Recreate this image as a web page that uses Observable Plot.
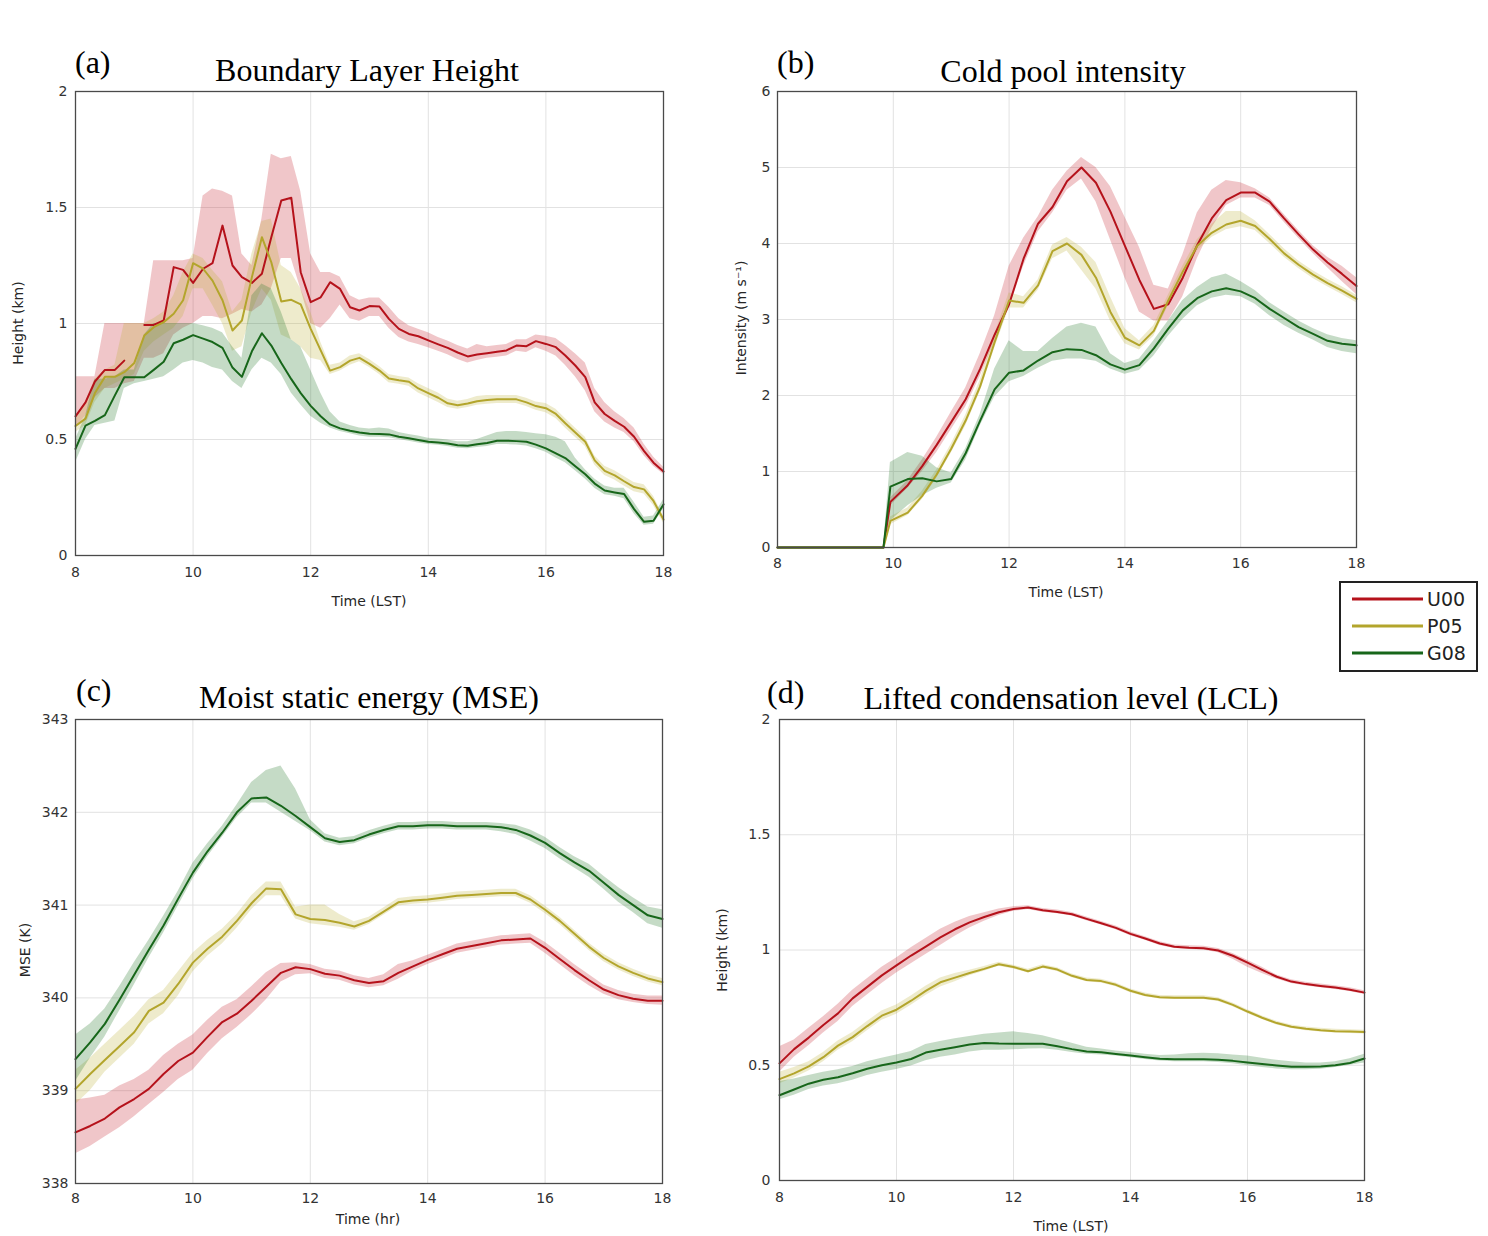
<!DOCTYPE html>
<html><head><meta charset="utf-8">
<script src="https://cdn.jsdelivr.net/npm/d3@7"></script>
<script src="https://cdn.jsdelivr.net/npm/@observablehq/plot@0.6"></script>
<style>
body{margin:0;background:#fff;}
#fig{position:relative;width:1488px;height:1236px;overflow:hidden;background:#fff;}
</style></head>
<body><div id="fig"></div>
<script>
// ---------- shared ----------
const seriesNames = ["U00", "P05", "G08"];
const lineColors = ["#b5121b", "#b3a52c", "#17661a"];
const bandColors = ["#c8323c", "#bcae34", "#2e7d32"];
const bandOpacity = [0.28, 0.25, 0.28];
const xTicks = [8, 10, 12, 14, 16, 18];

// ---------- panel (a) Boundary Layer Height ----------
const ta = [8,8.17,8.33,8.5,8.67,8.83,9,9.17,9.33,9.5,9.67,9.83,10,10.17,10.33,10.5,10.67,10.83,11,11.17,11.33,11.5,11.67,11.83,12,12.17,12.33,12.5,12.67,12.83,13,13.17,13.33,13.5,13.67,13.83,14,14.17,14.33,14.5,14.67,14.83,15,15.17,15.33,15.5,15.67,15.83,16,16.17,16.33,16.5,16.67,16.83,17,17.17,17.33,17.5,17.67,17.83,18];
const aU00 = [0.60,0.66,0.75,0.80,0.80,0.84,null,0.994,0.994,1.013,1.243,1.231,1.175,1.236,1.26,1.422,1.25,1.2,1.175,1.214,1.372,1.53,1.542,1.221,1.092,1.113,1.178,1.149,1.07,1.056,1.075,1.073,1.02,0.977,0.955,0.945,0.927,0.91,0.895,0.875,0.858,0.866,0.872,0.878,0.884,0.905,0.902,0.924,0.912,0.898,0.862,0.819,0.769,0.66,0.61,0.58,0.555,0.512,0.45,0.40,0.362];
const aU00lo = [0.55,0.60,0.68,0.72,0.72,0.74,0.75,0.85,0.85,0.87,0.95,0.98,1.0,1.03,1.03,1.02,1.04,1.06,1.05,1.08,1.15,1.28,1.28,1.15,1.0,0.98,1.02,1.08,1.02,1.01,1.03,1.03,0.98,0.94,0.92,0.91,0.895,0.88,0.865,0.845,0.83,0.84,0.85,0.855,0.86,0.88,0.875,0.895,0.88,0.86,0.82,0.77,0.71,0.62,0.575,0.55,0.53,0.49,0.43,0.385,0.35];
const aU00hi = [0.77,0.77,0.77,1.0,1.0,1.0,1.0,1.0,1.27,1.27,1.27,1.27,1.28,1.55,1.58,1.57,1.55,1.30,1.25,1.45,1.73,1.71,1.72,1.57,1.30,1.22,1.22,1.20,1.12,1.10,1.11,1.11,1.07,1.02,0.99,0.975,0.96,0.94,0.925,0.905,0.89,0.91,0.90,0.905,0.91,0.93,0.93,0.95,0.945,0.935,0.905,0.87,0.83,0.72,0.66,0.62,0.59,0.55,0.48,0.425,0.38];
const aP05 = [0.558,0.59,0.70,0.77,0.77,0.79,0.83,0.948,0.984,1.006,1.042,1.10,1.26,1.236,1.185,1.10,0.97,1.013,1.2,1.372,1.264,1.095,1.102,1.082,0.977,0.884,0.797,0.812,0.84,0.852,0.826,0.797,0.763,0.755,0.749,0.72,0.70,0.68,0.656,0.648,0.655,0.665,0.670,0.673,0.673,0.673,0.66,0.644,0.635,0.61,0.57,0.53,0.49,0.41,0.365,0.345,0.32,0.295,0.285,0.235,0.155];
const aP05lo = [0.53,0.56,0.66,0.72,0.74,0.76,0.78,0.88,0.92,0.95,0.98,1.03,1.15,1.15,1.08,1.0,0.88,0.90,1.05,1.15,1.10,0.95,0.93,0.90,0.85,0.84,0.78,0.795,0.82,0.835,0.81,0.78,0.745,0.738,0.73,0.70,0.68,0.66,0.638,0.63,0.638,0.648,0.652,0.655,0.655,0.655,0.642,0.626,0.615,0.59,0.55,0.51,0.47,0.39,0.345,0.325,0.30,0.275,0.265,0.215,0.14];
const aP05hi = [0.60,0.66,0.76,0.80,0.82,1.0,1.0,1.0,1.02,1.05,1.12,1.22,1.30,1.28,1.23,1.18,1.05,1.10,1.30,1.44,1.45,1.25,1.22,1.15,1.05,0.92,0.82,0.83,0.86,0.87,0.845,0.815,0.78,0.772,0.765,0.74,0.72,0.70,0.675,0.665,0.672,0.685,0.69,0.69,0.69,0.69,0.678,0.662,0.655,0.63,0.59,0.55,0.51,0.43,0.385,0.365,0.34,0.315,0.305,0.255,0.17];
const aG08 = [0.46,0.56,0.58,0.605,0.69,0.768,0.768,0.768,0.80,0.835,0.915,0.93,0.95,0.935,0.92,0.895,0.81,0.77,0.88,0.958,0.905,0.83,0.76,0.70,0.645,0.60,0.565,0.548,0.538,0.53,0.525,0.524,0.522,0.512,0.505,0.498,0.49,0.487,0.483,0.475,0.473,0.48,0.485,0.495,0.495,0.493,0.49,0.478,0.462,0.44,0.42,0.385,0.35,0.31,0.28,0.272,0.265,0.20,0.145,0.15,0.22];
const aG08lo = [0.40,0.50,0.56,0.57,0.58,0.72,0.74,0.75,0.76,0.77,0.80,0.83,0.84,0.83,0.81,0.80,0.75,0.72,0.80,0.85,0.83,0.78,0.70,0.65,0.60,0.57,0.55,0.535,0.525,0.515,0.51,0.51,0.508,0.50,0.492,0.485,0.478,0.475,0.47,0.462,0.46,0.465,0.47,0.478,0.478,0.476,0.472,0.46,0.445,0.42,0.40,0.365,0.33,0.29,0.262,0.255,0.245,0.18,0.13,0.135,0.20];
const aG08hi = [0.50,0.60,0.76,0.76,0.77,0.80,0.80,0.95,1.0,1.0,1.0,1.0,1.0,0.99,0.98,0.96,0.90,0.85,1.12,1.17,1.15,1.05,0.93,0.90,0.80,0.70,0.62,0.575,0.56,0.55,0.545,0.55,0.545,0.53,0.522,0.515,0.505,0.502,0.498,0.49,0.49,0.50,0.515,0.53,0.535,0.535,0.53,0.525,0.52,0.51,0.49,0.42,0.37,0.33,0.30,0.29,0.29,0.23,0.165,0.17,0.24];

// ---------- panel (b) Cold pool intensity ----------
const tb = [8,9.83,9.95,10.25,10.5,10.75,11,11.25,11.5,11.75,12,12.25,12.5,12.75,13,13.25,13.5,13.75,14,14.25,14.5,14.75,15,15.25,15.5,15.75,16,16.25,16.5,16.75,17,17.25,17.5,17.75,18];
const bU00 = [0,0,0.60,0.82,1.07,1.35,1.65,1.95,2.35,2.8,3.2,3.8,4.26,4.48,4.82,5.0,4.8,4.42,3.97,3.52,3.14,3.2,3.55,3.98,4.33,4.57,4.67,4.67,4.55,4.33,4.12,3.92,3.75,3.6,3.44];
const bU00lo = [0,0,0.55,0.78,1.0,1.25,1.55,1.85,2.25,2.7,3.15,3.7,4.15,4.4,4.7,4.85,4.55,4.05,3.55,3.1,2.98,2.98,3.3,3.8,4.2,4.5,4.6,4.6,4.5,4.28,4.07,3.87,3.68,3.5,3.33];
const bU00hi = [0,0,0.65,0.88,1.15,1.45,1.78,2.1,2.55,3.05,3.7,4.07,4.35,4.7,4.95,5.13,5.0,4.75,4.35,3.95,3.45,3.4,3.85,4.4,4.7,4.83,4.8,4.72,4.6,4.38,4.17,3.97,3.82,3.7,3.55];
const bP05 = [0,0,0.35,0.46,0.68,0.96,1.3,1.67,2.12,2.7,3.25,3.22,3.45,3.9,4.0,3.85,3.55,3.1,2.76,2.66,2.85,3.25,3.63,3.97,4.14,4.25,4.3,4.23,4.06,3.87,3.72,3.59,3.48,3.38,3.27];
const bP05lo = [0,0,0.30,0.42,0.63,0.91,1.24,1.6,2.05,2.62,3.15,3.15,3.38,3.8,3.9,3.65,3.4,2.98,2.68,2.6,2.78,3.18,3.55,3.9,4.08,4.18,4.22,4.17,4.0,3.82,3.67,3.54,3.43,3.33,3.22];
const bP05hi = [0,0,0.40,0.52,0.74,1.02,1.36,1.74,2.2,2.8,3.35,3.3,3.52,3.98,4.08,3.95,3.75,3.3,2.88,2.72,2.92,3.32,3.7,4.05,4.25,4.42,4.42,4.3,4.12,3.93,3.77,3.64,3.53,3.43,3.32];
const bG08 = [0,0,0.8,0.9,0.91,0.87,0.9,1.24,1.67,2.08,2.3,2.33,2.46,2.57,2.61,2.6,2.53,2.41,2.34,2.4,2.62,2.88,3.12,3.28,3.37,3.41,3.37,3.28,3.14,3.02,2.9,2.81,2.72,2.68,2.66];
const bG08lo = [0,0,0.35,0.55,0.68,0.78,0.85,1.15,1.6,1.98,2.18,2.25,2.36,2.45,2.48,2.48,2.45,2.35,2.28,2.33,2.52,2.78,3.0,3.18,3.28,3.32,3.3,3.2,3.05,2.92,2.82,2.73,2.63,2.58,2.55];
const bG08hi = [0,0,1.12,1.25,1.2,1.05,0.98,1.3,1.75,2.35,2.72,2.58,2.58,2.75,2.9,2.95,2.9,2.55,2.42,2.48,2.72,2.98,3.25,3.42,3.55,3.6,3.5,3.38,3.22,3.1,2.98,2.88,2.8,2.75,2.72];

// ---------- panels (c) and (d) share a 15-min time axis ----------
const tcd = [8,8.25,8.5,8.75,9,9.25,9.5,9.75,10,10.25,10.5,10.75,11,11.25,11.5,11.75,12,12.25,12.5,12.75,13,13.25,13.5,13.75,14,14.25,14.5,14.75,15,15.25,15.5,15.75,16,16.25,16.5,16.75,17,17.25,17.5,17.75,18];

// (c) Moist static energy
const cU00 = [338.55,338.62,338.7,338.82,338.91,339.02,339.18,339.32,339.41,339.58,339.74,339.83,339.97,340.12,340.27,340.33,340.31,340.26,340.24,340.19,340.16,340.18,340.27,340.34,340.41,340.47,340.53,340.56,340.59,340.62,340.63,340.64,340.54,340.42,340.3,340.19,340.09,340.03,339.99,339.97,339.97];
const cU00lo = [338.32,338.4,338.5,338.6,338.72,338.85,338.98,339.12,339.22,339.4,339.56,339.68,339.82,339.98,340.17,340.25,340.26,340.21,340.19,340.14,340.11,340.13,340.2,340.29,340.36,340.42,340.48,340.51,340.54,340.57,340.58,340.59,340.48,340.36,340.24,340.13,340.04,339.98,339.95,339.93,339.92];
const cU00hi = [338.9,338.92,338.95,339.05,339.12,339.22,339.38,339.5,339.6,339.76,339.9,339.98,340.12,340.27,340.37,340.38,340.36,340.31,340.29,340.24,340.21,340.25,340.36,340.4,340.46,340.52,340.58,340.61,340.64,340.67,340.68,340.69,340.6,340.48,340.36,340.25,340.14,340.08,340.04,340.02,340.02];
const cP05 = [339.02,339.18,339.33,339.48,339.63,339.86,339.95,340.15,340.38,340.53,340.66,340.83,341.02,341.18,341.17,340.9,340.85,340.84,340.81,340.77,340.83,340.93,341.03,341.05,341.06,341.08,341.1,341.11,341.12,341.13,341.13,341.06,340.95,340.83,340.69,340.55,340.43,340.34,340.27,340.21,340.17];
const cP05lo = [338.85,339.0,339.2,339.35,339.5,339.72,339.83,340.02,340.28,340.45,340.58,340.75,340.95,341.1,341.1,340.85,340.8,340.78,340.76,340.73,340.79,340.89,340.99,341.01,341.02,341.04,341.06,341.07,341.08,341.09,341.09,341.02,340.91,340.79,340.65,340.51,340.39,340.3,340.23,340.17,340.13];
const cP05hi = [339.22,339.35,339.5,339.65,339.8,339.98,340.08,340.28,340.48,340.62,340.74,340.9,341.1,341.25,341.25,340.98,341.0,341.0,340.9,340.82,340.87,340.97,341.07,341.09,341.1,341.12,341.14,341.15,341.16,341.17,341.17,341.1,340.99,340.87,340.73,340.59,340.47,340.38,340.31,340.25,340.21];
const cG08 = [339.34,339.52,339.72,339.98,340.25,340.52,340.78,341.07,341.35,341.58,341.78,342.0,342.15,342.16,342.07,341.96,341.84,341.72,341.68,341.7,341.76,341.81,341.85,341.85,341.86,341.86,341.85,341.85,341.85,341.84,341.81,341.75,341.67,341.56,341.46,341.37,341.24,341.11,341.0,340.89,340.85];
const cG08lo = [339.1,339.35,339.58,339.86,340.14,340.43,340.7,340.99,341.28,341.52,341.73,341.94,342.1,342.1,342.0,341.9,341.8,341.68,341.64,341.66,341.72,341.77,341.81,341.81,341.82,341.82,341.81,341.81,341.81,341.79,341.76,341.69,341.61,341.5,341.4,341.3,341.17,341.03,340.92,340.8,340.75];
const cG08hi = [339.6,339.72,339.88,340.12,340.38,340.62,340.88,341.15,341.45,341.66,341.85,342.08,342.32,342.45,342.5,342.25,341.92,341.77,341.72,341.74,341.8,341.85,341.89,341.89,341.9,341.9,341.89,341.89,341.89,341.88,341.86,341.81,341.73,341.62,341.52,341.44,341.31,341.19,341.08,340.98,340.95];

// (d) Lifted condensation level
const dU00 = [0.508,0.57,0.62,0.675,0.725,0.79,0.84,0.89,0.933,0.976,1.015,1.055,1.09,1.12,1.143,1.164,1.178,1.184,1.172,1.165,1.155,1.135,1.116,1.096,1.07,1.05,1.028,1.014,1.01,1.008,0.998,0.975,0.945,0.914,0.884,0.863,0.852,0.844,0.837,0.828,0.815];
const dU00lo = [0.47,0.535,0.585,0.64,0.69,0.755,0.805,0.855,0.9,0.94,0.98,1.02,1.06,1.095,1.125,1.15,1.168,1.176,1.164,1.157,1.147,1.127,1.108,1.088,1.062,1.042,1.02,1.006,1.002,1.0,0.988,0.96,0.925,0.898,0.874,0.855,0.844,0.836,0.829,0.82,0.807];
const dU00hi = [0.58,0.61,0.66,0.71,0.765,0.825,0.875,0.925,0.965,1.01,1.05,1.09,1.12,1.145,1.162,1.178,1.188,1.192,1.18,1.173,1.163,1.143,1.124,1.104,1.078,1.058,1.036,1.022,1.018,1.016,1.006,0.985,0.955,0.925,0.892,0.871,0.86,0.852,0.845,0.836,0.823];
const dP05 = [0.44,0.465,0.495,0.535,0.585,0.622,0.67,0.715,0.741,0.78,0.823,0.86,0.88,0.9,0.918,0.938,0.926,0.908,0.928,0.915,0.888,0.87,0.865,0.849,0.823,0.805,0.795,0.793,0.793,0.793,0.785,0.762,0.733,0.706,0.683,0.667,0.658,0.652,0.648,0.646,0.644];
const dP05lo = [0.42,0.445,0.475,0.515,0.565,0.602,0.65,0.695,0.721,0.76,0.803,0.84,0.862,0.888,0.908,0.929,0.918,0.9,0.92,0.907,0.88,0.862,0.857,0.841,0.815,0.797,0.787,0.785,0.785,0.785,0.777,0.754,0.725,0.698,0.675,0.659,0.65,0.644,0.64,0.638,0.636];
const dP05hi = [0.47,0.49,0.515,0.555,0.605,0.642,0.69,0.735,0.761,0.8,0.843,0.878,0.898,0.912,0.928,0.947,0.934,0.916,0.936,0.923,0.896,0.878,0.873,0.857,0.831,0.813,0.803,0.801,0.801,0.801,0.793,0.77,0.741,0.714,0.691,0.675,0.666,0.66,0.656,0.654,0.652];
const dG08 = [0.37,0.395,0.42,0.437,0.448,0.465,0.485,0.5,0.512,0.527,0.555,0.567,0.578,0.59,0.597,0.594,0.593,0.593,0.593,0.582,0.57,0.56,0.556,0.549,0.542,0.535,0.528,0.526,0.526,0.526,0.524,0.519,0.512,0.505,0.499,0.494,0.493,0.495,0.5,0.51,0.529];
const dG08lo = [0.35,0.37,0.395,0.41,0.42,0.435,0.455,0.47,0.482,0.497,0.52,0.535,0.545,0.558,0.565,0.565,0.567,0.57,0.572,0.565,0.555,0.548,0.545,0.54,0.532,0.525,0.518,0.515,0.515,0.515,0.512,0.506,0.498,0.49,0.484,0.48,0.48,0.483,0.49,0.5,0.51];
const dG08hi = [0.43,0.44,0.455,0.47,0.48,0.495,0.515,0.53,0.545,0.56,0.59,0.603,0.615,0.625,0.635,0.64,0.645,0.638,0.628,0.612,0.595,0.578,0.57,0.562,0.555,0.548,0.542,0.545,0.55,0.552,0.55,0.545,0.54,0.53,0.522,0.515,0.51,0.51,0.515,0.528,0.548];

// ---------- builders ----------
function rows(t, v, lo, hi) {
  return t.map((x, i) => ({t: x, v: v[i], lo: lo[i], hi: hi[i]}));
}
const fig = document.getElementById("fig");

function panel(cfg) {
  const sets = cfg.series.map(s => rows(cfg.t, s[0], s[1], s[2]));
  const marks = [
    Plot.ruleX(xTicks, {stroke: "#e2e2e2", strokeWidth: 1}),
    Plot.ruleY(cfg.yTicks, {stroke: "#e2e2e2", strokeWidth: 1})
  ];
  sets.forEach((d, i) => marks.push(Plot.areaY(d, {x: "t", y1: "lo", y2: "hi", fill: bandColors[i], fillOpacity: bandOpacity[i]})));
  sets.forEach((d, i) => marks.push(Plot.line(d, {x: "t", y: "v", stroke: lineColors[i], strokeWidth: 2})));
  marks.push(Plot.frame({stroke: "#4a4a4a", strokeWidth: 1.3}));
  const svg = Plot.plot({
    width: cfg.width, height: cfg.height,
    marginLeft: cfg.m[0], marginRight: cfg.m[1], marginTop: cfg.m[2], marginBottom: cfg.m[3],
    x: {domain: [8, 18], ticks: xTicks, tickSize: 0, tickPadding: cfg.xpad, label: null, tickFormat: d => String(d)},
    y: {domain: cfg.yDomain, ticks: cfg.yTicks, tickSize: 0, tickPadding: cfg.ypad, label: null, tickFormat: d => String(d)},
    style: {background: "transparent", fontSize: "14px", fontFamily: "DejaVu Sans, sans-serif", color: "#333", overflow: "visible"},
    marks
  });
  svg.style.position = "absolute";
  svg.style.left = cfg.left + "px";
  svg.style.top = cfg.top + "px";
  fig.appendChild(svg);
}

panel({t: ta, series: [[aU00, aU00lo, aU00hi], [aP05, aP05lo, aP05hi], [aG08, aG08lo, aG08hi]],
  yDomain: [0, 2], yTicks: [0, 0.5, 1, 1.5, 2],
  left: 0, top: 80, width: 700, height: 560, m: [75, 37, 11, 85], xpad: 12, ypad: 8});
panel({t: tb, series: [[bU00, bU00lo, bU00hi], [bP05, bP05lo, bP05hi], [bG08, bG08lo, bG08hi]],
  yDomain: [0, 6], yTicks: [0, 1, 2, 3, 4, 5, 6],
  left: 700, top: 80, width: 700, height: 520, m: [77, 44, 11, 53], xpad: 11, ypad: 7});
panel({t: tcd, series: [[cU00, cU00lo, cU00hi], [cP05, cP05lo, cP05hi], [cG08, cG08lo, cG08hi]],
  yDomain: [338, 343], yTicks: [338, 339, 340, 341, 342, 343],
  left: 0, top: 705, width: 700, height: 531, m: [75, 38, 14, 53], xpad: 10, ypad: 7});
panel({t: tcd, series: [[dU00, dU00lo, dU00hi], [dP05, dP05lo, dP05hi], [dG08, dG08lo, dG08hi]],
  yDomain: [0, 2], yTicks: [0, 0.5, 1, 1.5, 2],
  left: 700, top: 705, width: 720, height: 531, m: [79, 56, 14, 56], xpad: 12, ypad: 9});

// ---------- overlay: titles, axis labels, legend ----------
const ov = d3.select(fig).append("svg")
  .attr("width", 1488).attr("height", 1236)
  .style("position", "absolute").style("left", "0px").style("top", "0px")
  .style("pointer-events", "none");

const serif = "Liberation Serif, Times New Roman, serif";
const sans = "DejaVu Sans, sans-serif";
const titles = [
  {s: "(a)", x: 75, y: 73, a: "start"},
  {s: "Boundary Layer Height", x: 367, y: 81, a: "middle"},
  {s: "(b)", x: 777, y: 73, a: "start"},
  {s: "Cold pool intensity", x: 1063, y: 82, a: "middle"},
  {s: "(c)", x: 76, y: 701, a: "start"},
  {s: "Moist static energy (MSE)", x: 369, y: 708, a: "middle"},
  {s: "(d)", x: 767, y: 703, a: "start"},
  {s: "Lifted condensation level (LCL)", x: 1071, y: 709, a: "middle"}
];
ov.selectAll("text.t").data(titles).join("text").attr("class", "t")
  .attr("x", d => d.x).attr("y", d => d.y).attr("text-anchor", d => d.a)
  .attr("font-family", serif).attr("font-size", 32).attr("fill", "#000").text(d => d.s);

const xLabels = [
  {s: "Time (LST)", x: 369, y: 601},
  {s: "Time (LST)", x: 1066, y: 592},
  {s: "Time (hr)", x: 368, y: 1219},
  {s: "Time (LST)", x: 1071, y: 1226}
];
ov.selectAll("text.xl").data(xLabels).join("text").attr("class", "xl")
  .attr("x", d => d.x).attr("y", d => d.y).attr("text-anchor", "middle").attr("dominant-baseline", "central")
  .attr("font-family", sans).attr("font-size", 14).attr("fill", "#262626").text(d => d.s);

const yLabels = [
  {s: "Height (km)", x: 18, y: 323},
  {s: "Intensity (m s\u207B\u00B9)", x: 741, y: 318},
  {s: "MSE (K)", x: 25, y: 950},
  {s: "Height (km)", x: 722, y: 950}
];
ov.selectAll("text.yl").data(yLabels).join("text").attr("class", "yl")
  .attr("transform", d => `translate(${d.x},${d.y}) rotate(-90)`)
  .attr("text-anchor", "middle").attr("dominant-baseline", "central")
  .attr("font-family", sans).attr("font-size", 14).attr("fill", "#262626").text(d => d.s);

// legend
const lg = ov.append("g");
lg.append("rect").attr("x", 1340).attr("y", 582).attr("width", 137).attr("height", 89)
  .attr("fill", "#fff").attr("stroke", "#222").attr("stroke-width", 2);
seriesNames.forEach((n, i) => {
  const y = 599 + i * 27;
  lg.append("line").attr("x1", 1352).attr("x2", 1423).attr("y1", y).attr("y2", y)
    .attr("stroke", lineColors[i]).attr("stroke-width", 3);
  lg.append("text").attr("x", 1427).attr("y", y).attr("dominant-baseline", "central")
    .attr("font-family", sans).attr("font-size", 19).attr("fill", "#222").text(n);
});
</script>
</body></html>
